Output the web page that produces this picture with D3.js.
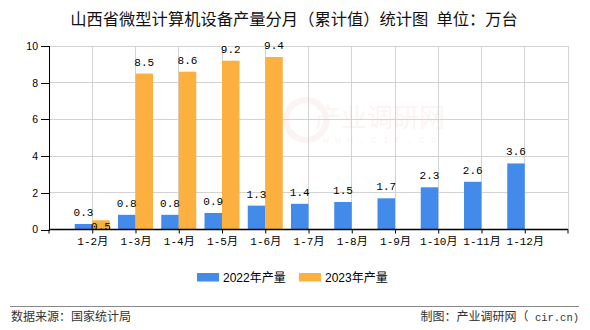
<!DOCTYPE html>
<html>
<head>
<meta charset="utf-8">
<script src="https://cdn.jsdelivr.net/npm/d3@7/dist/d3.min.js"></script>
<style>
  html, body { margin: 0; padding: 0; background: #fff; }
  svg { display: block; }
</style>
</head>
<body>
<div id="chart"></div>
<script>
// Cumulative monthly output of microcomputer equipment, Shanxi (unit: 10k sets)
const categories = ["1-2月", "1-3月", "1-4月", "1-5月", "1-6月", "1-7月", "1-8月", "1-9月", "1-10月", "1-11月", "1-12月"];
const values2022 = [0.3, 0.8, 0.8, 0.9, 1.3, 1.4, 1.5, 1.7, 2.3, 2.6, 3.6];
const values2023 = [0.5, 8.5, 8.6, 9.2, 9.4, null, null, null, null, null, null];
const seriesNames = ["2022年产量", "2023年产量"];
const yTicks = [0, 2, 4, 6, 8, 10];

const W = 590, H = 330;
const colors = ["#428BEB", "#FBB040"];
const cjk = "'Noto Sans CJK SC', 'Noto Sans', sans-serif";
const mono = "'Liberation Mono', 'DejaVu Sans Mono', 'Noto Sans CJK SC', monospace";
const sans = "'Liberation Sans', 'Noto Sans CJK SC', sans-serif";

const svg = d3.select("#chart").append("svg").attr("width", W).attr("height", H);

const plot = { left: 49, right: 568, top: 46, bottom: 229.5 };

const x = d3.scalePoint().domain(categories).range([plot.left, plot.right]).padding(1);
const y = d3.scaleLinear().domain([0, 10]).range([plot.bottom, plot.top]);
const barW = 17.5;

// Title
const title = svg.append("text")
  .attr("x", 294).attr("y", 24.5)
  .attr("text-anchor", "middle")
  .attr("font-family", cjk).attr("font-size", 16.3).attr("fill", "#111");
title.append("tspan").text("山西省微型计算机设备产量分月（累计值）统计图");
title.append("tspan").attr("dx", 8).text("单位：万台");

// Faint watermark
const wm = svg.append("g").attr("opacity", 0.045);
wm.append("circle").attr("cx", 306).attr("cy", 120).attr("r", 20).attr("fill", "none").attr("stroke", "#c00").attr("stroke-width", 6);
wm.append("text").attr("x", 380).attr("y", 127).attr("text-anchor", "middle")
  .attr("font-family", cjk).attr("font-size", 26).attr("fill", "#c00").text("产业调研网");
wm.append("text").attr("x", 380).attr("y", 143).attr("text-anchor", "middle")
  .attr("font-family", mono).attr("font-size", 10).attr("fill", "#c00").text("w w w . c i r . c n");

// Grid
const grid = svg.append("g").attr("stroke", "#d3d3d3").attr("stroke-width", 1).attr("shape-rendering", "crispEdges");
yTicks.filter(t => t > 0).forEach(t => {
  grid.append("line").attr("x1", plot.left).attr("x2", plot.right).attr("y1", y(t)).attr("y2", y(t));
});
categories.forEach(c => {
  grid.append("line").attr("x1", x(c)).attr("x2", x(c)).attr("y1", plot.top).attr("y2", plot.bottom);
});
grid.append("line").attr("x1", plot.right).attr("x2", plot.right).attr("y1", plot.top).attr("y2", plot.bottom);

// Bars
const bars = svg.append("g");
categories.forEach((c, i) => {
  if (values2022[i] != null) {
    bars.append("rect").attr("x", x(c) - barW).attr("width", barW)
      .attr("y", y(values2022[i])).attr("height", y(0) - y(values2022[i])).attr("fill", colors[0]);
  }
  if (values2023[i] != null) {
    bars.append("rect").attr("x", x(c)).attr("width", barW)
      .attr("y", y(values2023[i])).attr("height", y(0) - y(values2023[i])).attr("fill", colors[1]);
  }
});

// Y axis
const yAxis = svg.append("g").attr("transform", `translate(${plot.left},0)`)
  .call(d3.axisLeft(y).tickValues(yTicks).tickSize(8).tickPadding(3).tickFormat(d3.format("d")));
yAxis.select(".domain").attr("stroke", "#000").attr("shape-rendering", "crispEdges");
yAxis.selectAll(".tick line").attr("stroke", "#000").attr("shape-rendering", "crispEdges");
yAxis.selectAll(".tick text").attr("font-family", sans).attr("font-size", 10.5).attr("fill", "#000");

// X axis
const xAxis = svg.append("g").attr("transform", `translate(0,${plot.bottom})`)
  .call(d3.axisBottom(x).tickSize(4).tickPadding(4).tickSizeOuter(0));
xAxis.select(".domain").attr("d", `M${plot.left},0H${plot.right}`).attr("stroke", "#000").attr("stroke-width", 1.5);
xAxis.selectAll(".tick line").attr("stroke", "#000");
[plot.left, plot.right].forEach(px => {
  xAxis.append("line").attr("x1", px).attr("x2", px).attr("y1", 0).attr("y2", 4).attr("stroke", "#000");
});
xAxis.selectAll(".tick text").attr("font-family", mono).attr("font-size", 11).attr("fill", "#000");

// Value labels (2023 label drops inside its bar when it would collide with the 2022 label)
const labels = svg.append("g").attr("font-family", mono).attr("font-size", 11).attr("fill", "#000").attr("text-anchor", "middle");
categories.forEach((c, i) => {
  const v1 = values2022[i], v2 = values2023[i];
  let y1 = null;
  if (v1 != null) {
    y1 = y(v1) - 8;
    labels.append("text").attr("x", x(c) - barW / 2).attr("y", y1).text(v1.toFixed(1));
  }
  if (v2 != null) {
    let y2 = y(v2) - 8;
    if (y1 != null && Math.abs(y2 - y1) < 12) y2 = y(v2) + 10;
    labels.append("text").attr("x", x(c) + barW / 2).attr("y", y2).text(v2.toFixed(1));
  }
});

// Legend
const legend = svg.append("g").attr("font-family", sans).attr("font-size", 12).attr("fill", "#000");
const legendX = [197, 299];
seriesNames.forEach((name, i) => {
  legend.append("rect").attr("x", legendX[i]).attr("y", 273).attr("width", 22).attr("height", 8.5).attr("fill", colors[i]);
  legend.append("text").attr("x", legendX[i] + 26).attr("y", 281.5).text(name);
});

// Footer
svg.append("line").attr("x1", 10).attr("x2", 579).attr("y1", 306.5).attr("y2", 306.5)
  .attr("stroke", "#888").attr("stroke-width", 1);
svg.append("text").attr("x", 11).attr("y", 321).attr("font-family", cjk).attr("font-size", 12).attr("fill", "#333")
  .text("数据来源：国家统计局");
const credit = svg.append("text").attr("x", 579).attr("y", 321).attr("text-anchor", "end")
  .attr("font-family", cjk).attr("font-size", 12).attr("fill", "#333");
credit.append("tspan").text("制图：产业调研网（");
credit.append("tspan").attr("font-family", mono).attr("font-size", 10.5).text(" cir.cn)");
</script>
</body>
</html>
